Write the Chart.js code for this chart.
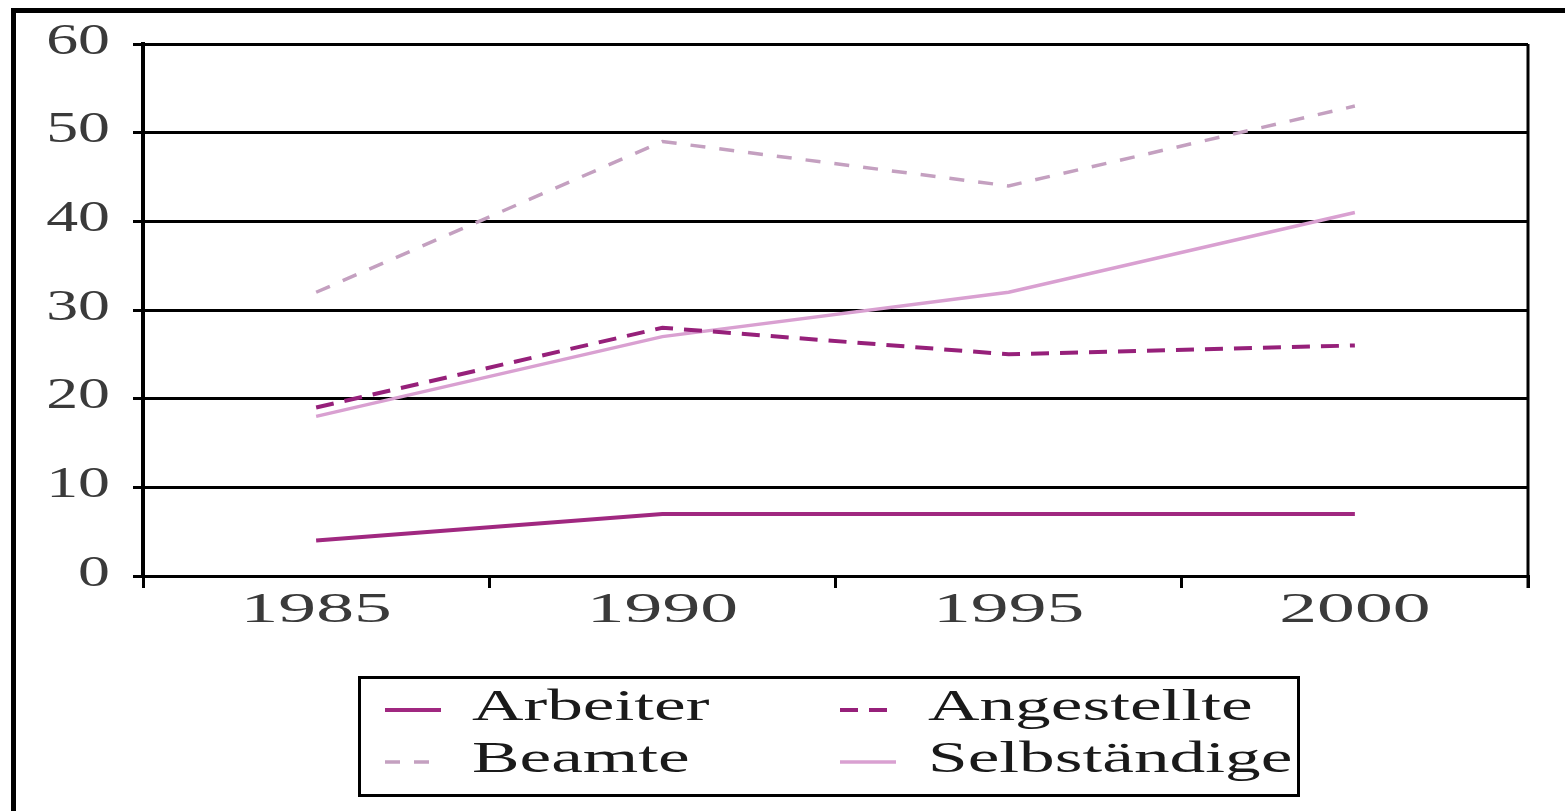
<!DOCTYPE html>
<html>
<head>
<meta charset="utf-8">
<script src="https://cdn.jsdelivr.net/npm/chart.js@4"></script>
<style>
  html, body { margin: 0; padding: 0; background: #fff; }
  #chart { display: block; }
</style>
</head>
<body>
<canvas id="chart" width="1565" height="811"></canvas>
<script>
const years = ["1985", "1990", "1995", "2000"];
const arbeiter = [4, 7, 7, 7];
const angestellte = [19, 28, 25, 26];
const beamte = [32, 49, 44, 53];
const selbstaendige = [18, 27, 32, 41];
const yTicks = [0, 10, 20, 30, 40, 50, 60];

const serif = '"Liberation Serif", "Times New Roman", serif';

// draw text squeezed wide, like the scanned original
function wideText(ctx, text, x, y, align, sx, size) {
    ctx.save();
    ctx.translate(x, y);
    ctx.scale(sx, 1);
    ctx.font = size + "px " + serif;
    ctx.textAlign = align;
    ctx.textBaseline = "middle";
    ctx.fillText(text, 0, 0);
    ctx.restore();
}

const decorPlugin = {
    id: "decor",
    afterDraw(chart) {
        const ctx = chart.ctx;
        const area = chart.chartArea;

        // outer frame (top + left only)
        ctx.save();
        ctx.strokeStyle = "#000";
        ctx.lineWidth = 5;
        ctx.beginPath();
        ctx.moveTo(11, 10.5);
        ctx.lineTo(1565, 10.5);
        ctx.moveTo(13.5, 8);
        ctx.lineTo(13.5, 811);
        ctx.stroke();

        // right edge of plot
        ctx.lineWidth = 3;
        ctx.beginPath();
        ctx.moveTo(area.right, area.top);
        ctx.lineTo(area.right, area.bottom + 12);
        ctx.stroke();
        ctx.restore();

        // tick labels
        ctx.save();
        ctx.fillStyle = "#3a3a3a";
        const ys = chart.scales.y;
        yTicks.forEach(v => {
            wideText(ctx, String(v), 110, ys.getPixelForValue(v) - 2, "right", 1.45, 44);
        });
        const xs = chart.scales.x;
        years.forEach((yr, i) => {
            wideText(ctx, yr, xs.getPixelForValue(i), 611, "center", 1.8, 42);
        });
        ctx.restore();

        // legend box
        ctx.save();
        ctx.strokeStyle = "#000";
        ctx.lineWidth = 3;
        ctx.strokeRect(359.5, 677.5, 939, 118);
        const sampleX = [385, 840];
        const textX = [472, 928];
        const rowY = [708, 760];
        chart.data.datasets.forEach((ds, i) => {
            const col = i % 2, row = Math.floor(i / 2);
            ctx.strokeStyle = ds.borderColor;
            ctx.lineWidth = ds.borderWidth;
            ctx.setLineDash(ds.borderDash || []);
            ctx.beginPath();
            ctx.moveTo(sampleX[col], rowY[row] + 2);
            ctx.lineTo(sampleX[col] + 56, rowY[row] + 2);
            ctx.stroke();
            ctx.setLineDash([]);
            ctx.fillStyle = "#1a1a1a";
            wideText(ctx, ds.label, textX[col], rowY[row], "left", 1.62, 44);
        });
        ctx.restore();
    }
};

new Chart(document.getElementById("chart"), {
    type: "line",
    data: {
        labels: years,
        datasets: [
            {
                label: "Arbeiter",
                data: arbeiter,
                borderColor: "#a02880",
                borderWidth: 4,
            },
            {
                label: "Angestellte",
                data: angestellte,
                borderColor: "#96207a",
                borderWidth: 4,
                borderDash: [18, 11],
            },
            {
                label: "Beamte",
                data: beamte,
                borderColor: "#c4a0c0",
                borderWidth: 3.5,
                borderDash: [15, 14],
            },
            {
                label: "Selbständige",
                data: selbstaendige,
                borderColor: "#d9a0d1",
                borderWidth: 3.5,
            },
        ],
    },
    options: {
        responsive: false,
        animation: false,
        devicePixelRatio: 1,
        layout: { padding: { top: 44, right: 37, left: 0, bottom: 0 } },
        elements: {
            point: { radius: 0 },
            line: { tension: 0 },
        },
        plugins: {
            legend: { display: false },
            tooltip: { enabled: false },
        },
        scales: {
            x: {
                offset: true,
                grid: {
                    offset: true,
                    drawOnChartArea: false,
                    color: "#000",
                    lineWidth: 3,
                    tickLength: 12,
                },
                border: { color: "#000", width: 3 },
                ticks: { display: false },
                afterFit: s => { s.height = 235; },
            },
            y: {
                min: 0,
                max: 60,
                ticks: { stepSize: 10, display: false },
                grid: { color: "#000", lineWidth: 3, tickLength: 10 },
                border: { color: "#000", width: 4 },
                afterFit: s => { s.width = 143; },
            },
        },
    },
    plugins: [decorPlugin],
});
</script>
</body>
</html>
